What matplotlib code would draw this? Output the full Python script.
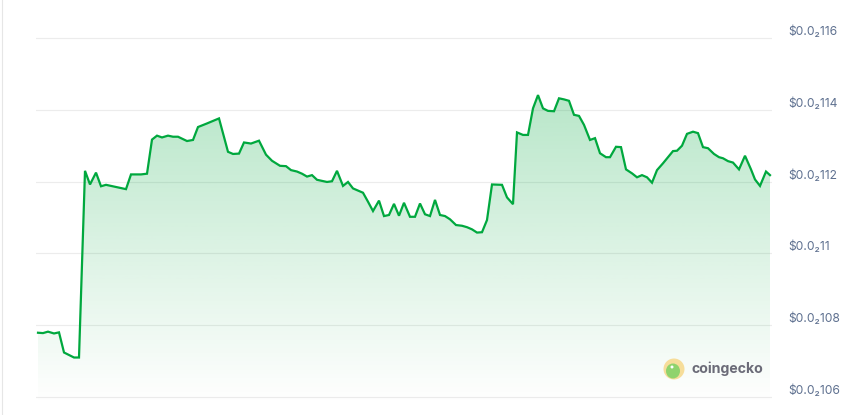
import numpy as np
import matplotlib
matplotlib.use("Agg")
import matplotlib.pyplot as plt
from matplotlib.patches import Ellipse
from matplotlib.lines import Line2D

plt.rcParams['font.family'] = ['Inter', 'DejaVu Sans']
plt.rcParams['text.parse_math'] = False

# time position and price in units of 0.00001 USD
t = [38, 43, 48, 54, 59, 64, 74, 79, 85, 90, 96, 101, 106, 126, 131, 141, 147,
     152, 157, 162, 168, 173, 178, 187, 193, 198, 207, 219, 228, 233, 239, 244,
     251, 259, 266, 272, 280, 286, 291, 297, 302, 307, 312, 317, 322, 327, 332,
     337, 343, 348, 353, 363, 368, 373, 379, 384, 389, 394, 399, 404, 410, 415,
     420, 425, 430, 435, 440, 445, 450, 456, 462, 467, 472, 477, 482, 487, 492,
     502, 507, 513, 517, 523, 528, 533, 538, 543, 548, 554, 559, 564, 569, 574,
     579, 584, 590, 595, 600, 606, 610, 616, 621, 626, 632, 637, 642, 647, 652,
     657, 663, 668, 673, 677, 682, 687, 693, 698, 703, 708, 714, 719, 723, 728,
     733, 739, 745, 751, 755, 760, 766, 770]
price = [107.79, 107.78, 107.82, 107.77, 107.80, 107.24, 107.10, 107.10, 112.30,
         111.92, 112.25, 111.87, 111.91, 111.79, 112.20, 112.20, 112.22, 113.17,
         113.28, 113.23, 113.28, 113.25, 113.25, 113.13, 113.16, 113.52, 113.62,
         113.76, 112.83, 112.77, 112.78, 113.09, 113.06, 113.14, 112.75, 112.58,
         112.44, 112.43, 112.32, 112.28, 112.22, 112.14, 112.18, 112.05, 112.02,
         111.99, 112.01, 112.30, 111.88, 111.99, 111.81, 111.69, 111.44, 111.18,
         111.47, 111.04, 111.07, 111.38, 111.05, 111.41, 111.02, 111.02, 111.39,
         111.09, 111.04, 111.49, 111.07, 111.04, 110.95, 110.79, 110.77, 110.73,
         110.67, 110.58, 110.59, 110.93, 111.92, 111.91, 111.56, 111.37, 113.37,
         113.30, 113.30, 114.04, 114.41, 114.04, 113.97, 113.96, 114.32, 114.29,
         114.25, 113.86, 113.83, 113.58, 113.16, 113.21, 112.79, 112.68, 112.68,
         112.97, 112.96, 112.34, 112.23, 112.12, 112.18, 112.12, 111.97, 112.32,
         112.51, 112.68, 112.85, 112.86, 113.00, 113.33, 113.39, 113.35, 112.96,
         112.93, 112.77, 112.68, 112.65, 112.57, 112.53, 112.34, 112.72, 112.34,
         112.06, 111.88, 112.28, 112.18]

tick_vals = [106, 108, 110, 112, 114, 116]
tick_labels = ["$0.0\u2082106", "$0.0\u2082108", "$0.0\u208211",
               "$0.0\u2082112", "$0.0\u2082114", "$0.0\u2082116"]

W, H = 858, 415
fig = plt.figure(figsize=(W / 100, H / 100), dpi=100)
fig.patch.set_facecolor('white')

# axes spans px x 36..772, y 20..405
ax = fig.add_axes([36 / W, 1 - 405 / H, (772 - 36) / W, (405 - 20) / H])
y_top = 116 + 18 / 35.9
y_bot = 106 - 8 / 35.9
ax.set_xlim(36, 772)
ax.set_ylim(y_bot, y_top)

for v in tick_vals:
    ax.axhline(v, color='#ececec', lw=0.8, zorder=0)

green = '#00a83e'
fill = ax.fill_between(t, price, y_bot, color='none', lw=0)
grad = np.zeros((256, 1, 4))
grad[:, 0, 0] = 0 / 255
grad[:, 0, 1] = 168 / 255
grad[:, 0, 2] = 62 / 255
grad[:, 0, 3] = np.linspace(0.28, 0.0, 256)
img = ax.imshow(grad, aspect='auto', extent=[36, 772, y_bot, max(price)],
                origin='upper', zorder=1)
img.set_clip_path(fill.get_paths()[0], transform=ax.transData)
ax.plot(t, price, color=green, lw=1.6, solid_joinstyle='miter', zorder=3)

ax.yaxis.tick_right()
ax.set_yticks(tick_vals)
ax.set_yticklabels(tick_labels)
ax.tick_params(axis='y', length=0, pad=12, labelsize=8.7, labelcolor='#5f7190')
for lab in ax.get_yticklabels():
    lab.set_va('bottom')
ax.set_xticks([])
for s in ax.spines.values():
    s.set_visible(False)
ax.set_facecolor('none')

# card border on the left
fig.add_artist(Line2D([2 / W, 2 / W], [0, 1], color='#e6e6e6', lw=0.8))

# watermark
cx, cy = 674 / W, 1 - 369 / H
fig.add_artist(Ellipse((cx, cy), 21 / W, 21 / H, transform=fig.transFigure,
                       facecolor='#f6dd9a', edgecolor='none'))
fig.add_artist(Ellipse((cx - 1 / W, cy - 2 / H), 14 / W, 15 / H,
                       transform=fig.transFigure, facecolor='#8fd36d',
                       edgecolor='none'))
fig.add_artist(Ellipse((cx - 2 / W, cy + 2 / H), 3 / W, 3 / H,
                       transform=fig.transFigure, facecolor='white',
                       edgecolor='none'))
fig.text(692 / W, cy, "coingecko", fontsize=10.2, fontweight='bold',
         color='#6b6b78', va='center', ha='left')

fig.savefig("out.png", dpi=100)
